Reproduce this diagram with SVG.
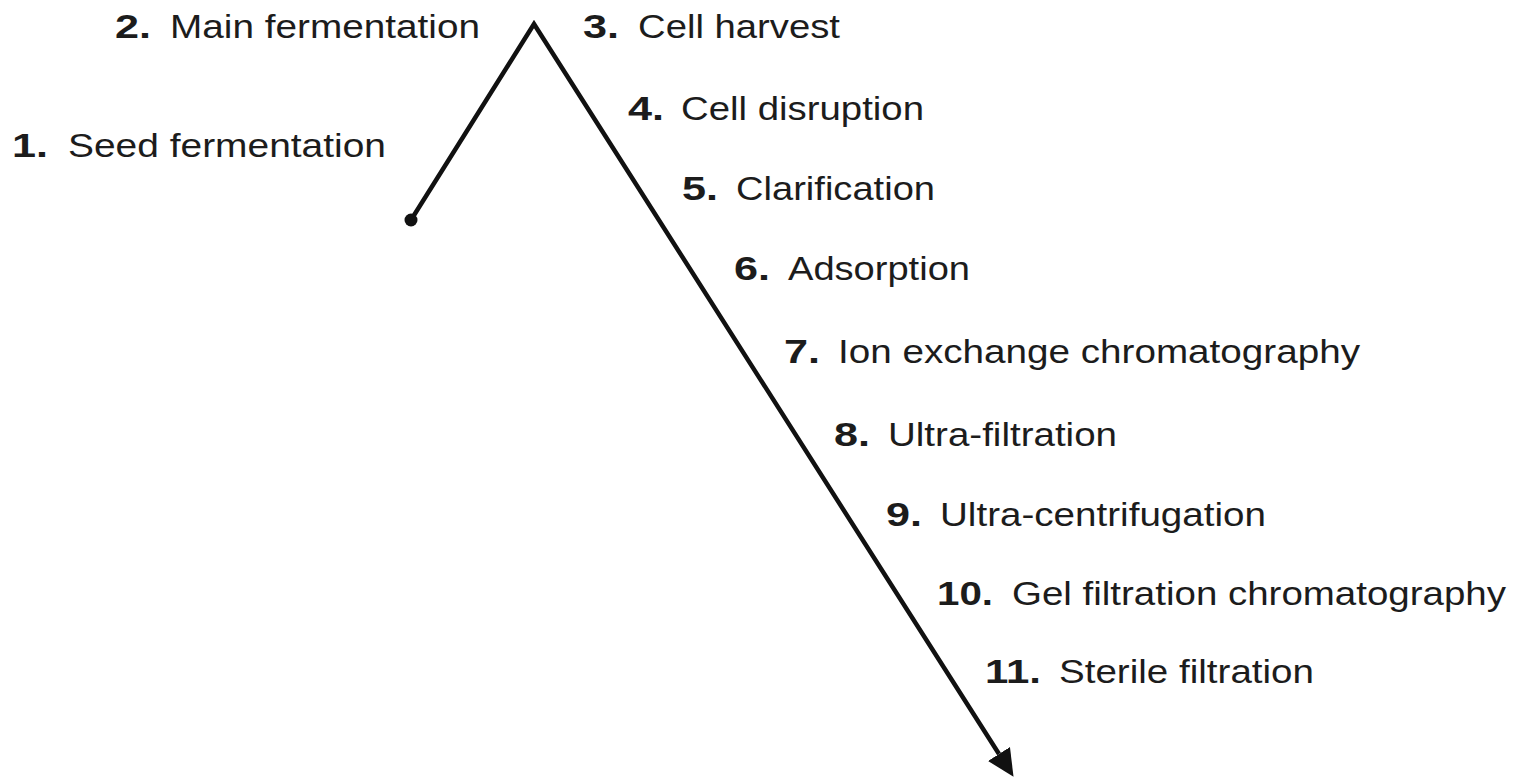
<svg xmlns="http://www.w3.org/2000/svg" width="1516" height="779" viewBox="0 0 1516 779">
  <style>
    .num { font-family: "Liberation Sans", Arial, sans-serif; font-size: 34px; font-weight: bold; fill: #1c1c1c; }
    .lbl { font-family: "Liberation Sans", Arial, sans-serif; font-size: 34px; fill: #1c1c1c; }
    .conn { fill: none; stroke: #111; stroke-width: 4.5; stroke-linejoin: miter; stroke-miterlimit: 10; }
  </style>
  <defs>
    <marker id="arrow" markerUnits="userSpaceOnUse" markerWidth="30" markerHeight="28" refX="0" refY="14" orient="auto" viewBox="0 0 30 28">
      <path d="M0,1 L27,14 L0,27 Z" fill="#111"/>
    </marker>
  </defs>
  <rect width="1516" height="779" fill="#ffffff"/>
  <g id="connectors">
    <path class="conn" d="M411,220 L534,24 L999,754" marker-end="url(#arrow)"/>
    <circle cx="411" cy="220" r="6.5" fill="#111"/>
  </g>
  <g id="step1"><text class="num" x="12" y="157" textLength="36" lengthAdjust="spacingAndGlyphs">1.</text><text class="lbl" x="68" y="157" textLength="318" lengthAdjust="spacingAndGlyphs">Seed fermentation</text></g>
  <g id="step2"><text class="num" x="115" y="38" textLength="36" lengthAdjust="spacingAndGlyphs">2.</text><text class="lbl" x="170" y="38" textLength="310" lengthAdjust="spacingAndGlyphs">Main fermentation</text></g>
  <g id="step3"><text class="num" x="583" y="38" textLength="36" lengthAdjust="spacingAndGlyphs">3.</text><text class="lbl" x="638" y="38" textLength="202" lengthAdjust="spacingAndGlyphs">Cell harvest</text></g>
  <g id="step4"><text class="num" x="628" y="120" textLength="36" lengthAdjust="spacingAndGlyphs">4.</text><text class="lbl" x="681" y="120" textLength="243" lengthAdjust="spacingAndGlyphs">Cell disruption</text></g>
  <g id="step5"><text class="num" x="682" y="200" textLength="36" lengthAdjust="spacingAndGlyphs">5.</text><text class="lbl" x="736" y="200" textLength="199" lengthAdjust="spacingAndGlyphs">Clarification</text></g>
  <g id="step6"><text class="num" x="734" y="280" textLength="36" lengthAdjust="spacingAndGlyphs">6.</text><text class="lbl" x="788" y="280" textLength="182" lengthAdjust="spacingAndGlyphs">Adsorption</text></g>
  <g id="step7"><text class="num" x="784" y="363" textLength="36" lengthAdjust="spacingAndGlyphs">7.</text><text class="lbl" x="838" y="363" textLength="522" lengthAdjust="spacingAndGlyphs">Ion exchange chromatography</text></g>
  <g id="step8"><text class="num" x="834" y="446" textLength="36" lengthAdjust="spacingAndGlyphs">8.</text><text class="lbl" x="888" y="446" textLength="229" lengthAdjust="spacingAndGlyphs">Ultra-filtration</text></g>
  <g id="step9"><text class="num" x="886" y="526" textLength="36" lengthAdjust="spacingAndGlyphs">9.</text><text class="lbl" x="940" y="526" textLength="326" lengthAdjust="spacingAndGlyphs">Ultra-centrifugation</text></g>
  <g id="step10"><text class="num" x="937" y="605" textLength="56" lengthAdjust="spacingAndGlyphs">10.</text><text class="lbl" x="1012" y="605" textLength="494" lengthAdjust="spacingAndGlyphs">Gel filtration chromatography</text></g>
  <g id="step11"><text class="num" x="985" y="683" textLength="56" lengthAdjust="spacingAndGlyphs">11.</text><text class="lbl" x="1059" y="683" textLength="255" lengthAdjust="spacingAndGlyphs">Sterile filtration</text></g>
</svg>
